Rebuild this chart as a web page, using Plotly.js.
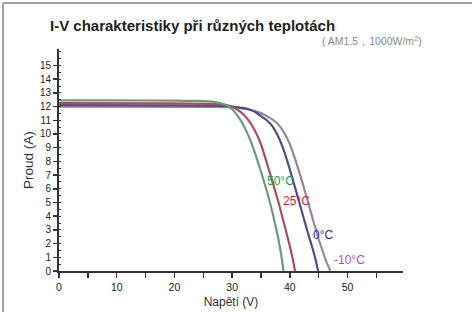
<!DOCTYPE html>
<html>
<head>
<meta charset="utf-8">
<script src="https://cdn.plot.ly/plotly-3.0.1.min.js"></script>
<style>
html,body{margin:0;padding:0;background:#fff;}
#chart{width:472px;height:312px;}
</style>
</head>
<body>
<div id="chart"></div>
<script>
// Data
var seriesNames = ["50°C", "25°C", "0°C", "-10°C"];

var v50 = [0, 10, 20, 24, 26, 27, 28, 29, 30, 31, 32, 33, 34, 35, 36, 37, 38, 38.5, 38.9];
var i50 = [12.45, 12.45, 12.43, 12.41, 12.38, 12.33, 12.24, 12.1, 11.8, 11.3, 10.6, 9.7, 8.55, 7.25, 5.85, 4.25, 2.35, 1.2, 0];

var v25 = [0, 20, 26, 28, 29, 30, 31, 32, 33, 34, 35, 36, 37, 38, 39, 40, 40.5, 40.9];
var i25 = [12.25, 12.23, 12.2, 12.15, 12.1, 11.98, 11.75, 11.4, 10.9, 10.2, 9.25, 7.9, 6.5, 5.05, 3.45, 1.8, 0.9, 0];

var v0 = [0, 20, 28, 30, 32, 33, 34, 35, 36, 37, 38, 39, 40, 41, 42, 43, 44, 44.5, 44.9];
var i0 = [12.1, 12.08, 12.05, 12.0, 11.88, 11.78, 11.6, 11.3, 11.0, 10.55, 9.8, 8.75, 7.4, 5.95, 4.45, 2.95, 1.55, 0.75, 0];

var vm10 = [0, 20, 29, 31, 33, 35, 36, 37, 38, 39, 40, 41, 42, 43, 44, 45, 46, 46.5, 47.0];
var im10 = [12.0, 11.98, 11.95, 11.9, 11.78, 11.52, 11.3, 11.05, 10.7, 10.1, 9.25, 8.05, 6.7, 5.25, 3.75, 2.3, 1.05, 0.5, 0];

// label anchor positions (data coordinates) and tick labels
var labelX = [38.3, 41.1, 45.8, 50.3];
var labelY = [6.6, 5.1, 2.6, 0.8];
var xTickVals = [0, 10, 20, 30, 40, 50];
var xTickText = ["0", "10", "20", "30", "40", "50"];
var yTickVals = [0,1,2,3,4,5,6,7,8,9,10,11,12,13,14,15];

var lineColors = ["#6b9a7c", "#a8505c", "#4e4e8c", "#9c84a0"];
var labelColors = ["#12a04a", "#e0202e", "#2a2a90", "#b0509c"];

var xs = [v50, v25, v0, vm10];
var ys = [i50, i25, i0, im10];
var order = [3, 2, 1, 0];
var traces = order.map(function(k){
  return {
    x: xs[k], y: ys[k], type: "scatter", mode: "lines", name: seriesNames[k],
    line: {color: lineColors[k], width: 2.2, shape: "spline", smoothing: 0.3},
    hoverinfo: "skip"
  };
});

var annotations = seriesNames.map(function(n, k){
  return {
    x: labelX[k], y: labelY[k], xref: "x", yref: "y", text: n, showarrow: false,
    font: {family: "Liberation Sans, Arial, sans-serif", size: 12, color: labelColors[k]},
    xanchor: "center", yanchor: "middle"
  };
});
annotations.push({
  xref: "paper", yref: "paper", x: -0.032, y: 1.0, yshift: 24,
  text: "<b>I-V charakteristiky při různých teplotách</b>", showarrow: false,
  xanchor: "left", yanchor: "middle",
  font: {family: "Liberation Sans, Arial, sans-serif", size: 15, color: "#222"}
});
annotations.push({
  xref: "paper", yref: "paper", x: 0.909, y: 1.0, yshift: 9,
  text: "( AM1.5，1000W/m<sup>2</sup>)", showarrow: false,
  xanchor: "center", yanchor: "middle",
  font: {family: "Liberation Sans, Arial, sans-serif", size: 10.5, color: "#8a8a8a"}
});

var layout = {
  width: 472, height: 312,
  margin: {l: 59, r: 69, t: 49, b: 41, pad: 0},
  paper_bgcolor: "#ffffff", plot_bgcolor: "#ffffff",
  showlegend: false,
  font: {family: "Liberation Sans, Arial, sans-serif", size: 10, color: "#222"},
  xaxis: {
    range: [0, 59.6], showgrid: false, zeroline: false,
    showline: true, linecolor: "#333", linewidth: 2,
    tickmode: "array", tickvals: xTickVals, ticktext: xTickText,
    ticks: "outside", ticklen: 5, tickwidth: 1.5, tickcolor: "#333",
    minor: {dtick: 5, ticks: "outside", ticklen: 5, tickwidth: 1.5, tickcolor: "#333"},
    tickfont: {size: 10.5, color: "#222"},
    title: {text: "Napětí (V)", font: {size: 12, color: "#333"}, standoff: 6}
  },
  yaxis: {
    range: [0, 16.2], showgrid: false, zeroline: false,
    showline: true, linecolor: "#333", linewidth: 2,
    tickmode: "array", tickvals: yTickVals,
    ticks: "outside", ticklen: 4, tickwidth: 1.5, tickcolor: "#333",
    minor: {dtick: 0.5, ticks: "inside", ticklen: 2, tickwidth: 1, tickcolor: "#333"},
    tickfont: {size: 10, color: "#222"},
    title: {text: "Proud (A)", font: {size: 13.5, color: "#333"}, standoff: 3}
  },
  annotations: annotations,
  shapes: [
    {type: "line", xref: "paper", yref: "paper", x0: -0.163, x1: -0.163, y0: 1.207, y1: -0.3,
     line: {color: "#a0a0a0", width: 2}},
    {type: "line", xref: "paper", yref: "paper", x0: -0.163, x1: 1.3, y0: 1.207, y1: 1.207,
     line: {color: "#a0a0a0", width: 2}}
  ]
};

Plotly.newPlot("chart", traces, layout, {staticPlot: true, displayModeBar: false});
</script>
</body>
</html>
